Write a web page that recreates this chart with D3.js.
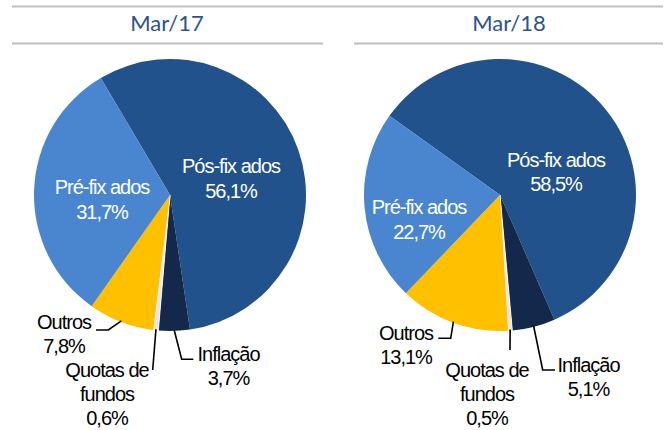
<!DOCTYPE html>
<html>
<head>
<meta charset="utf-8">
<script src="https://cdn.jsdelivr.net/npm/d3@7"></script>
<style>
  html, body { margin: 0; padding: 0; background: #fff; }
  svg { display: block; }
</style>
</head>
<body>
<script>
// ---- data ----
const periods = ["Mar/17", "Mar/18"];
const categories = ["Pós-fixados", "Inflação", "Quotas de fundos", "Outros", "Pré-fixados"];
const displayNames = [["Pós-fix ados"], ["Inflação"], ["Quotas de", "fundos"], ["Outros"], ["Pré-fix ados"]];
const valuesMar17 = [56.1, 3.7, 0.6, 7.8, 31.7];
const valuesMar18 = [58.5, 5.1, 0.5, 13.1, 22.7];
const startAnglesDeg = [-30.6, -54.4];

// ---- layout / style ----
const W = 667, H = 430;
const colors = ["#22528C", "#13284A", "#E6E6E6", "#FFC000", "#4A86D0"];
const textColors = ["#fff", "#000", "#000", "#000", "#fff"];
const centers = [[170, 195], [500, 195]];
const radius = 136;
const headerX = [167, 509];

// label offsets relative to pie centre [dx, dy of first baseline]
const labelOffsets = [
  [[61, -22], [58.5, 165.7], [-63, 182.3], [-106, 134.3], [-68, -0.7]],
  [[56, -28.3], [88.5, 176.7], [-13, 182.3], [-94, 145], [-81, 19]]
];
// leader elbows relative to pie centre (null for inside labels)
const leaderElbows = [
  [null, [[11.7, 164.3], [23.3, 164.3]], [[-17.3, 175]], [[-61.7, 135], [-74, 135]], null],
  [null, [[42.7, 175], [55, 175]], [[10, 155]], [[-49.3, 143.3], [-61.7, 143.3]], null]
];

const svg = d3.select("body").append("svg").attr("width", W).attr("height", H);

// header rules
const rule = "#BFBFBF";
svg.append("line").attr("x1", 12).attr("x2", 663).attr("y1", 6.5).attr("y2", 6.5)
  .attr("stroke", rule).attr("stroke-width", 2);
svg.append("line").attr("x1", 12).attr("x2", 323).attr("y1", 43.5).attr("y2", 43.5)
  .attr("stroke", rule).attr("stroke-width", 2);
svg.append("line").attr("x1", 354).attr("x2", 663).attr("y1", 43.5).attr("y2", 43.5)
  .attr("stroke", rule).attr("stroke-width", 2);

const fmt = v => d3.format(".1f")(v).replace(".", ",") + "%";
const allValues = [valuesMar17, valuesMar18];

allValues.forEach((vals, p) => {
  const [cx, cy] = centers[p];
  svg.append("text")
    .attr("x", headerX[p]).attr("y", 31)
    .attr("text-anchor", "middle")
    .attr("font-family", "Lato, 'Open Sans', sans-serif")
    .attr("font-size", 22)
    .attr("fill", "#2B5490")
    .text(periods[p]);

  const a0 = startAnglesDeg[p] * Math.PI / 180;
  const pie = d3.pie().sort(null).value(d => d.v).startAngle(a0).endAngle(a0 + 2 * Math.PI);
  const arcs = pie(vals.map((v, i) => ({ v, i })));
  const arc = d3.arc().innerRadius(0).outerRadius(radius);

  const g = svg.append("g").attr("transform", `translate(${cx},${cy})`);
  g.selectAll("path.slice").data(arcs).join("path")
    .attr("class", "slice")
    .attr("d", arc)
    .attr("fill", d => colors[d.data.i])
    .attr("stroke", d => d.data.i === 2 ? "#fff" : "none")
    .attr("stroke-width", 0.8);

  // leader lines
  arcs.forEach(d => {
    const el = leaderElbows[p][d.data.i];
    if (!el) return;
    const mid = (d.startAngle + d.endAngle) / 2;
    const start = [Math.sin(mid) * (radius - 1), -Math.cos(mid) * (radius - 1)];
    const pts = [start].concat(el);
    g.append("path")
      .attr("d", d3.line()(pts))
      .attr("fill", "none")
      .attr("stroke", "#000")
      .attr("stroke-width", 1.6);
  });

  // labels
  arcs.forEach(d => {
    const i = d.data.i;
    const [dx, dy] = labelOffsets[p][i];
    const lines = displayNames[i].concat([fmt(vals[i])]);
    const t = g.append("text")
      .attr("text-anchor", "middle")
      .attr("font-family", "'Liberation Sans', Arial, sans-serif")
      .attr("font-size", 20)
      .attr("letter-spacing", -1)
      .attr("fill", textColors[i]);
    lines.forEach((ln, k) => {
      t.append("tspan").attr("x", dx).attr("y", dy + k * (i === 0 || i === 4 ? 24.5 : 23.8)).text(ln);
    });
  });
});
</script>
</body>
</html>
